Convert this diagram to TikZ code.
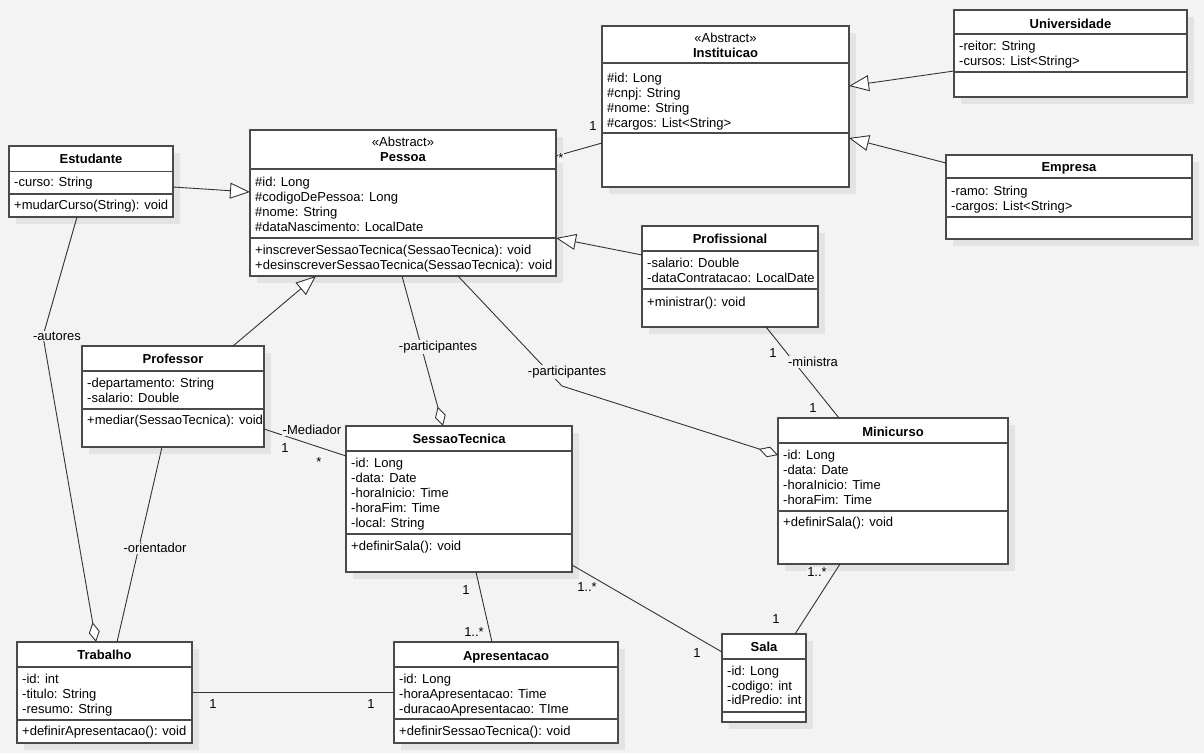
\documentclass[tikz,border=0pt]{standalone}
\usepackage{fontspec}
\setmainfont{Liberation Sans}
\usetikzlibrary{arrows.meta,calc}

\definecolor{canvas}{HTML}{F3F3F3}
\definecolor{shadowgray}{HTML}{E3E3E3}
\definecolor{edge}{HTML}{4A4A4A}
\definecolor{wire}{HTML}{333333}

\newcommand\umltext{\fontsize{13}{15}\selectfont}

\tikzset{
  classbox/.style={rectangle, draw=edge, line width=1.3pt, fill=white, inner sep=0pt, outer sep=0pt},
  sepline/.style={draw=edge, line width=1.3pt},
  ctitle/.style={font=\umltext\bfseries, anchor=base, inner sep=0pt},
  cstereo/.style={font=\umltext, anchor=base, inner sep=0pt},
  cline/.style={font=\umltext, anchor=base west, inner sep=0pt},
  wirepath/.style={draw=wire, line width=0.9pt},
  inherit/.style={wirepath, -{Triangle[length=20pt, width=16pt, fill=white]}},
  aggr/.style={wirepath, -{Diamond[length=20pt, width=11pt, fill=white]}},
  role/.style={font=\umltext, fill=canvas, inner sep=1pt},
  mult/.style={font=\umltext, fill=canvas, inner sep=0.5pt},
}

% class box: name, x1, y1, x2, y2, first separator, second separator
\newcommand\umlclass[7]{%
  \fill[shadowgray] ({#2+7},{#3+7}) rectangle ({#4+7},{#5+7});
  \node[classbox, anchor=north west, minimum width={#4-#2}, minimum height={#5-#3}] (#1) at (#2,#3) {};
  \draw[sepline] (#2,#6) -- (#4,#6);
  \draw[sepline] (#2,#7) -- (#4,#7);
}

\begin{document}
\begin{tikzpicture}[x=1pt,y=-1pt]
\fill[canvas] (0,0) rectangle (1204,753);
\useasboundingbox (0,0) rectangle (1204,753);

% ---------- Universidade ----------
\umlclass{univ}{954}{10}{1187}{97}{34}{72}
\node[ctitle] (univ-t) at (1070.5,28.5) {Universidade};
\node[cline] (univ-a1) at (959,50.5) {-reitor: String};
\node[cline] (univ-a2) at (959,65.5) {-cursos: List<String>};

% ---------- Instituicao ----------
\umlclass{inst}{602}{26}{849}{187}{63}{133}
\node[cstereo] (inst-s) at (725.5,42.5) {«Abstract»};
\node[ctitle] (inst-t) at (725.5,57.5) {Instituicao};
\node[cline] (inst-a1) at (607,82.5) {\#id: Long};
\node[cline] (inst-a2) at (607,97.5) {\#cnpj: String};
\node[cline] (inst-a3) at (607,112.5) {\#nome: String};
\node[cline] (inst-a4) at (607,127.5) {\#cargos: List<String>};

% ---------- Empresa ----------
\umlclass{empresa}{946}{155}{1192}{239}{178}{217}
\node[ctitle] (empresa-t) at (1069,171.5) {Empresa};
\node[cline] (empresa-a1) at (951,195.5) {-ramo: String};
\node[cline] (empresa-a2) at (951,210.5) {-cargos: List<String>};

% ---------- Estudante ----------
\umlclass{estudante}{9}{146}{173}{217}{171.5}{194}
\node[ctitle] (estudante-t) at (91,163.5) {Estudante};
\node[cline] (estudante-a1) at (14,186.5) {-curso: String};
\node[cline] (estudante-m1) at (14,209.5) {+mudarCurso(String): void};

% ---------- Pessoa ----------
\umlclass{pessoa}{250}{130}{556}{276}{169}{238}
\node[cstereo] (pessoa-s) at (403,146.5) {«Abstract»};
\node[ctitle] (pessoa-t) at (403,161.5) {Pessoa};
\node[cline] (pessoa-a1) at (255,186.5) {\#id: Long};
\node[cline] (pessoa-a2) at (255,201.5) {\#codigoDePessoa: Long};
\node[cline] (pessoa-a3) at (255,216.5) {\#nome: String};
\node[cline] (pessoa-a4) at (255,231.5) {\#dataNascimento: LocalDate};
\node[cline] (pessoa-m1) at (255,254.5) {+inscreverSessaoTecnica(SessaoTecnica): void};
\node[cline] (pessoa-m2) at (255,269.5) {+desinscreverSessaoTecnica(SessaoTecnica): void};

% ---------- Profissional ----------
\umlclass{profissional}{642}{226}{818}{327}{251}{289}
\node[ctitle] (profissional-t) at (730,243.5) {Profissional};
\node[cline] (profissional-a1) at (647,267.5) {-salario: Double};
\node[cline] (profissional-a2) at (647,282.5) {-dataContratacao: LocalDate};
\node[cline] (profissional-m1) at (647,306.5) {+ministrar(): void};

% ---------- Professor ----------
\umlclass{professor}{82}{346}{264}{447}{371}{409}
\node[ctitle] (professor-t) at (173,363.5) {Professor};
\node[cline] (professor-a1) at (87,387.5) {-departamento: String};
\node[cline] (professor-a2) at (87,402.5) {-salario: Double};
\node[cline] (professor-m1) at (87,424.5) {+mediar(SessaoTecnica): void};

% ---------- SessaoTecnica ----------
\umlclass{sessao}{346}{426}{572}{572}{451}{534}
\node[ctitle] (sessao-t) at (459,443.5) {SessaoTecnica};
\node[cline] (sessao-a1) at (351,467.5) {-id: Long};
\node[cline] (sessao-a2) at (351,482.5) {-data: Date};
\node[cline] (sessao-a3) at (351,497.5) {-horaInicio: Time};
\node[cline] (sessao-a4) at (351,512.5) {-horaFim: Time};
\node[cline] (sessao-a5) at (351,527.5) {-local: String};
\node[cline] (sessao-m1) at (351,550.5) {+definirSala(): void};

% ---------- Minicurso ----------
\umlclass{minicurso}{778}{418}{1008}{564}{443}{511}
\node[ctitle] (minicurso-t) at (893,436.5) {Minicurso};
\node[cline] (minicurso-a1) at (783,459.5) {-id: Long};
\node[cline] (minicurso-a2) at (783,474.5) {-data: Date};
\node[cline] (minicurso-a3) at (783,489.5) {-horaInicio: Time};
\node[cline] (minicurso-a4) at (783,504.5) {-horaFim: Time};
\node[cline] (minicurso-m1) at (783,526.5) {+definirSala(): void};

% ---------- Trabalho ----------
\umlclass{trabalho}{17}{642}{192}{743}{667}{720}
\node[ctitle] (trabalho-t) at (104.5,659.5) {Trabalho};
\node[cline] (trabalho-a1) at (22,683.5) {-id: int};
\node[cline] (trabalho-a2) at (22,698.5) {-titulo: String};
\node[cline] (trabalho-a3) at (22,713.5) {-resumo: String};
\node[cline] (trabalho-m1) at (22,735.5) {+definirApresentacao(): void};

% ---------- Apresentacao ----------
\umlclass{apresentacao}{394}{642}{618}{743}{667}{719}
\node[ctitle] (apresentacao-t) at (506,660.5) {Apresentacao};
\node[cline] (apresentacao-a1) at (399,683.5) {-id: Long};
\node[cline] (apresentacao-a2) at (399,698.5) {-horaApresentacao: Time};
\node[cline] (apresentacao-a3) at (399,713.5) {-duracaoApresentacao: TIme};
\node[cline] (apresentacao-m1) at (399,735.5) {+definirSessaoTecnica(): void};

% ---------- Sala ----------
\umlclass{sala}{722}{634}{806}{722}{659}{712}
\node[ctitle] (sala-t) at (764,651.5) {Sala};
\node[cline] (sala-a1) at (727,675.5) {-id: Long};
\node[cline] (sala-a2) at (727,690.5) {-codigo: int};
\node[cline] (sala-a3) at (727,704.5) {-idPredio: int};

% ---------- generalizations ----------
\draw[inherit] ($(univ.north west)+(0,61)$) -- ($(inst.north east)+(0,60)$);
\draw[inherit] ($(empresa.north west)+(0,8)$) -- ($(inst.north east)+(0,112)$);
\draw[inherit] ($(estudante.north east)+(0,41)$) -- ($(pessoa.north west)+(0,62)$);
\draw[inherit] ($(profissional.north west)+(0,29)$) -- ($(pessoa.north east)+(0,108)$);
\draw[inherit] ($(professor.north west)+(151,0)$) -- ($(pessoa.south west)+(66,0)$);

% ---------- associations ----------
\draw[wirepath] ($(inst.north west)+(0,117)$) -- ($(pessoa.north east)+(0,26)$);
\draw[aggr] ($(pessoa.south west)+(152,0)$) -- ($(sessao.north west)+(97,0)$);
\coordinate (partbend) at (562,386);
\draw[aggr] ($(pessoa.south west)+(208,0)$) -- (partbend) -- ($(minicurso.north west)+(0,37)$);
\draw[wirepath] ($(professor.north east)+(0,83)$) -- ($(sessao.north west)+(0,30)$);
\draw[wirepath] ($(profissional.south west)+(124,0)$) -- ($(minicurso.north west)+(61,0)$);
\coordinate (autbend) at (43,336);
\draw[aggr] ($(estudante.south west)+(68,0)$) -- (autbend) -- ($(trabalho.north west)+(79,0)$);
\draw[wirepath] ($(professor.south west)+(80,0)$) -- ($(trabalho.north west)+(100,0)$);
\draw[wirepath] ($(trabalho.north east)+(0,50)$) -- ($(apresentacao.north west)+(0,50)$);
\draw[wirepath] ($(sessao.south west)+(130,0)$) -- ($(apresentacao.north west)+(98,0)$);
\draw[wirepath] ($(sessao.south east)+(0,-7)$) -- ($(sala.north west)+(0,18)$);
\draw[wirepath] ($(minicurso.south west)+(62,0)$) -- ($(sala.north west)+(73,0)$);

% ---------- role names ----------
\node[role] (r-part1) at (438,347) {-participantes};
\node[role] (r-part2) at (567,372) {-participantes};
\node[role] (r-min) at (813,362) {-ministra};
\node[role] (r-med) at (312,430) {-Mediador};
\node[role] (r-aut) at (57,336) {-autores};
\node[role] (r-ori) at (155,548) {-orientador};

% ---------- multiplicities ----------
\node[mult] (m-inst) at (593,126) {1};
\node[mult] (m-pes) at (561,158) {*};
\node[mult] (m-prof) at (773,353) {1};
\node[mult] (m-mini) at (813,408) {1};
\node[mult] (m-med1) at (285,448) {1};
\node[mult] (m-med2) at (319,462) {*};
\node[mult] (m-ses1) at (466,590) {1};
\node[mult] (m-apr1) at (474,632) {1..*};
\node[mult] (m-ses2) at (587,587) {1..*};
\node[mult] (m-sal1) at (697,653) {1};
\node[mult] (m-mini2) at (817,572) {1..*};
\node[mult] (m-sal2) at (776,619) {1};
\node[mult] (m-tra) at (213,704) {1};
\node[mult] (m-apr2) at (371,704) {1};
\end{tikzpicture}
\end{document}
